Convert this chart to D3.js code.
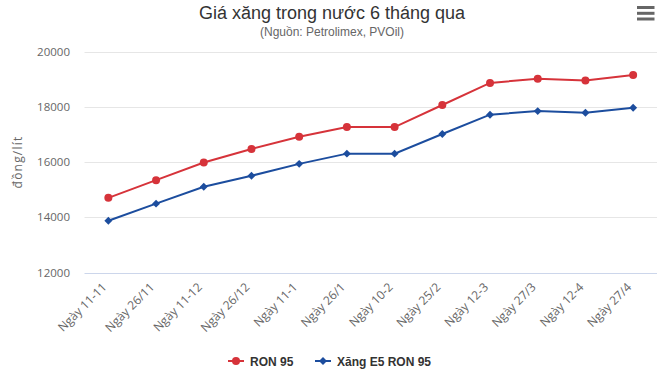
<!DOCTYPE html>
<html>
<head>
<meta charset="utf-8">
<script src="https://cdn.jsdelivr.net/npm/d3@7"></script>
<style>
  body { margin: 0; background: #fff; }
  svg { font-family: "Liberation Sans", Arial, sans-serif; }
</style>
</head>
<body>
<svg id="chart" width="669" height="375"></svg>
<script>
// data
const dates = ['Ngày 11-11', 'Ngày 26/11', 'Ngày 11-12', 'Ngày 26/12', 'Ngày 11-1', 'Ngày 26/1',
    'Ngày 10-2', 'Ngày 25/2', 'Ngày 12-3', 'Ngày 27/3', 'Ngày 12-4', 'Ngày 27/4'];
const ron95 = [14710, 15350, 15990, 16480, 16920, 17270, 17270, 18070, 18870, 19020, 18960, 19160];
const e5ron95 = [13880, 14500, 15110, 15510, 15940, 16310, 16310, 17020, 17720, 17850, 17790, 17970];
const yTicks = [12000, 14000, 16000, 18000, 20000];

const svg = d3.select('#chart');
const plotLeft = 84.5, plotRight = 657, plotTop = 51.7, plotBottom = 272.7;

let x = d3.scaleBand().domain(dates).range([plotLeft, plotRight]);
let y = d3.scaleLinear().domain([12000, 20000]).range([plotBottom, plotTop]);

// title
svg.append('text').attr('x', 332).attr('y', 19).attr('text-anchor', 'middle')
    .attr('font-size', 18).attr('fill', '#333').text('Giá xăng trong nước 6 tháng qua');
svg.append('text').attr('x', 332).attr('y', 36).attr('text-anchor', 'middle')
    .attr('font-size', 12).attr('fill', '#666').text('(Nguồn: Petrolimex, PVOil)');

// menu button
svg.selectAll('.menu').data([7.5, 13.3, 19]).enter().append('line')
    .attr('x1', 637).attr('x2', 654.5).attr('y1', d => d).attr('y2', d => d)
    .attr('stroke', '#666').attr('stroke-width', 3);

// grid
svg.selectAll('.grid').data(yTicks.slice(1)).enter().append('line')
    .attr('x1', plotLeft).attr('x2', plotRight)
    .attr('y1', d => Math.round(y(d)) + 0.5).attr('y2', d => Math.round(y(d)) + 0.5)
    .attr('stroke', '#e6e6e6');
svg.append('line').attr('x1', plotLeft).attr('x2', plotRight)
    .attr('y1', Math.round(plotBottom) + 0.5).attr('y2', Math.round(plotBottom) + 0.5)
    .attr('stroke', '#ccd6eb');

// y labels
svg.selectAll('.ylab').data(yTicks).enter().append('text')
    .attr('x', 70).attr('y', d => y(d) + 4).attr('text-anchor', 'end')
    .attr('font-family', '"Open Sans", sans-serif')
    .attr('font-size', 11.5).attr('fill', '#666').text(d => d);
svg.append('text').attr('transform', 'translate(22,162) rotate(-90)')
    .attr('text-anchor', 'middle').attr('font-size', 12).attr('fill', '#666')
    .attr('font-family', '"Open Sans", sans-serif')
    .attr('letter-spacing', 1.2).text('đồng/lít');

// x labels
svg.selectAll('.xlab').data(dates).enter().append('text')
    .attr('transform', d => 'translate(' + (x(d) + x.bandwidth() / 2 - 1) + ',288) rotate(-45)')
    .attr('font-family', '"Open Sans", sans-serif')
    .attr('text-anchor', 'end').attr('font-size', 12).attr('fill', '#666').text(d => d);

const line = d3.line().x((d, i) => x(dates[i]) + x.bandwidth() / 2).y(d => y(d));

const red = '#d6333a', blue = '#1c4d9e';

svg.append('path').datum(ron95).attr('d', line).attr('fill', 'none')
    .attr('stroke', red).attr('stroke-width', 2);
svg.selectAll('.p1').data(ron95).enter().append('circle')
    .attr('cx', (d, i) => x(dates[i]) + x.bandwidth() / 2).attr('cy', d => y(d))
    .attr('r', 4).attr('fill', red);

svg.append('path').datum(e5ron95).attr('d', line).attr('fill', 'none')
    .attr('stroke', blue).attr('stroke-width', 2);
const diamond = d3.symbol().type(d3.symbolDiamond2).size(40);
svg.selectAll('.p2').data(e5ron95).enter().append('path')
    .attr('d', diamond)
    .attr('transform', (d, i) => 'translate(' + (x(dates[i]) + x.bandwidth() / 2) + ',' + y(d) + ')')
    .attr('fill', blue);

// legend
const legend = [
    { name: 'RON 95', color: red, x: 228, sym: 'circle' },
    { name: 'Xăng E5 RON 95', color: blue, x: 315, sym: 'diamond' }
];
let lg = svg.selectAll('.lg').data(legend).enter().append('g');
lg.append('line').attr('x1', d => d.x).attr('x2', d => d.x + 16)
    .attr('y1', 361).attr('y2', 361).attr('stroke', d => d.color).attr('stroke-width', 2);
lg.filter(d => d.sym == 'circle').append('circle')
    .attr('cx', d => d.x + 8).attr('cy', 361).attr('r', 4).attr('fill', d => d.color);
lg.filter(d => d.sym == 'diamond').append('path').attr('d', diamond)
    .attr('transform', d => 'translate(' + (d.x + 8) + ',361)').attr('fill', d => d.color);
lg.append('text').attr('x', d => d.x + 22).attr('y', 365.5)
    .attr('font-size', 12).attr('font-weight', 'bold').attr('fill', '#333').text(d => d.name);
</script>
</body>
</html>
